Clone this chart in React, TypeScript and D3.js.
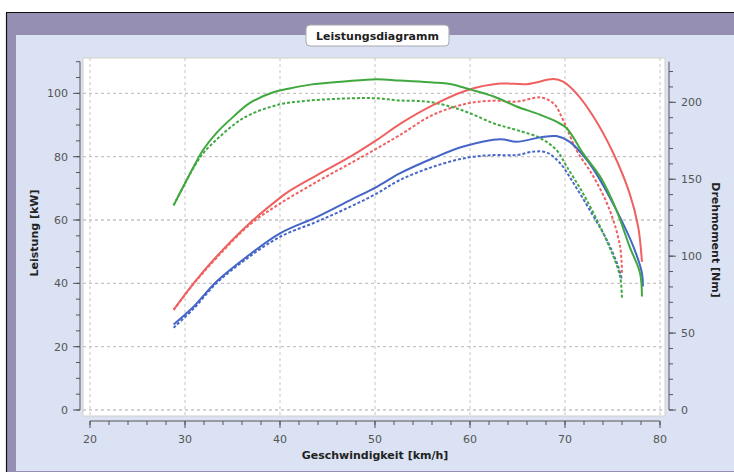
import React from "react";
import * as d3 from "d3";

type Pt = [number, number];

const xTicks = [20, 30, 40, 50, 60, 70, 80];
const leftTicks = [0, 20, 40, 60, 80, 100];
const rightTicks = [0, 50, 100, 150, 200];

// Leistung [kW] – red solid / dashed
const redSolid: Pt[] = [
  [28.8, 31.6], [30.9, 40], [33.3, 48.4], [36.8, 59], [40, 67], [41, 69.2], [43.9, 74.2],
  [47.4, 80], [50.2, 85.3], [52.6, 90.3], [56.1, 96.3], [59.7, 101], [63.2, 103.1],
  [66, 102.9], [68.8, 104.5], [69.8, 103.7], [71.2, 100], [73, 92.6], [75.1, 81],
  [76.8, 68.4], [77.7, 57.9], [78.1, 46.8],
];
const redDashed: Pt[] = [
  [28.8, 31.6], [30.9, 39.8], [33.3, 48], [36.8, 58.5], [40, 65.2], [43.9, 72.1],
  [47.4, 77.9], [50.2, 82.6], [52.6, 86.8], [56.1, 93.2], [59.7, 96.8], [62.5, 97.7],
  [64.9, 97.4], [67.4, 98.7], [68.8, 96.8], [69.8, 91.6], [71.2, 82.1], [73, 73.7],
  [74.7, 63.2], [75.8, 51.6], [76, 43],
];
// Leistung [kW] – blue solid / dashed
const blueSolid: Pt[] = [
  [28.8, 27], [30.9, 32.6], [33.3, 40.5], [36.5, 48.4], [40, 55.8], [43.9, 61],
  [47.4, 66.3], [50.2, 70.5], [52.6, 74.7], [56.1, 79.5], [59.3, 83.2], [63.2, 85.5],
  [64.9, 84.7], [67.4, 86.1], [69.1, 86.5], [70.5, 84.7], [72.3, 79], [73.7, 72.6],
  [75.4, 63.2], [77.2, 51.6], [78.1, 43.2], [78.2, 39],
];
const blueDashed: Pt[] = [
  [28.8, 26], [30.9, 32], [33.3, 40], [36.5, 47.8], [40, 54.7], [43.9, 59.5],
  [47.4, 64.2], [50.2, 68.4], [52.6, 72.6], [56.1, 76.8], [59.7, 79.7], [62.5, 80.5],
  [64.9, 80.5], [66.7, 81.6], [68.1, 81.3], [69.5, 77.9], [70.9, 71.6], [72.6, 63.2],
  [74.4, 53.7], [75.6, 45.3], [76, 41],
];
// Drehmoment [Nm] – green solid / dashed
const greenSolid: Pt[] = [
  [28.8, 133], [29.8, 145], [30.9, 158], [31.9, 169], [33.3, 180], [35.1, 190.7],
  [36.8, 199.5], [39.3, 206.5], [41, 209], [43.2, 211.5], [46.7, 213.5], [50.2, 215],
  [52.6, 214.1], [56.1, 212.9], [57.9, 211.9], [60, 208.4], [62.5, 203.8], [64.9, 197.3],
  [67.4, 191.9], [69.1, 187.4], [70.2, 183], [71.9, 166.8], [73.7, 151.7], [75.4, 130.1],
  [76.8, 106.2], [77.9, 88.9], [78.1, 73.7],
];
const greenDashed: Pt[] = [
  [28.8, 133], [29.8, 145], [30.9, 157.5], [31.9, 166.8], [33.3, 175.6], [35.1, 185.3],
  [36.8, 191.9], [40, 198.7], [43.2, 201.2], [47.4, 202.6], [50.2, 202.6], [52.6, 201.2],
  [55.4, 200.5], [57.9, 197.3], [60, 192.9], [62.5, 186.3], [64.9, 182], [67.4, 176.7],
  [69.1, 169], [70.2, 158.1], [71.9, 140.8], [73.7, 119.2], [75.1, 99.7], [75.8, 86.7],
  [76, 72.7],
];

const RED = "#ef6060";
const GREEN = "#3fa83f";
const BLUE = "#4565c8";
const FONT = "'DejaVu Sans', Verdana, sans-serif";

export default function App() {
  const W = 734;
  const H = 472;
  const x = d3.scaleLinear().domain([20, 80]).range([90, 660]);
  const yL = d3.scaleLinear().domain([0, 110]).range([410, 61.7]);
  const yR = d3.scaleLinear().domain([0, 226.4]).range([410, 61.7]);

  const curve = d3.curveCatmullRom.alpha(0.5);
  const lineL = d3.line<Pt>().x((d) => x(d[0])).y((d) => yL(d[1])).curve(curve);
  const lineR = d3.line<Pt>().x((d) => x(d[0])).y((d) => yR(d[1])).curve(curve);

  const xMinor = d3.range(20, 80.01, 2);
  const lMinor = d3.range(0, 110.01, 5);
  const rMinor = d3.range(0, 220.01, 10);

  const plot = { x0: 83, x1: 665, y0: 58, y1: 416 };
  const axisY = 421;
  const leftAxisX = 80;
  const rightAxisX = 669;

  const series = [
    { d: lineL(redDashed), c: RED, dash: "3,2" },
    { d: lineL(blueDashed), c: BLUE, dash: "3,2" },
    { d: lineR(greenDashed), c: GREEN, dash: "3,2" },
    { d: lineL(redSolid), c: RED, dash: undefined },
    { d: lineL(blueSolid), c: BLUE, dash: undefined },
    { d: lineR(greenSolid), c: GREEN, dash: undefined },
  ];

  return (
    <svg width={W} height={H} style={{ position: "absolute", left: 0, top: 0 }} fontFamily={FONT}>
      <rect x={0} y={0} width={W} height={H} fill="#ffffff" />
      <rect x={6} y={12} width={W - 6} height={H - 12} fill="#9590b3" />
      <line x1={6} y1={12.5} x2={W} y2={12.5} stroke="#111" strokeWidth={1.2} />
      <line x1={6.5} y1={12} x2={6.5} y2={H} stroke="#111" strokeWidth={1.2} />
      <rect x={16} y={35} width={W - 16} height={H - 36} fill="#dae2f3" />

      {/* title */}
      <rect x={306} y={25} width={143} height={21} rx={4} fill="#ffffff" stroke="#a8a8b0" />
      <text x={377.5} y={39.5} textAnchor="middle" fontSize={11} fontWeight="bold" fill="#222">
        Leistungsdiagramm
      </text>

      {/* plot background */}
      <rect x={plot.x0} y={plot.y0} width={plot.x1 - plot.x0} height={plot.y1 - plot.y0} fill="#ffffff" stroke="#d4d0c8" />

      {/* grid */}
      {xTicks.map((t) => (
        <line key={"gx" + t} x1={x(t)} x2={x(t)} y1={plot.y0} y2={plot.y1} stroke="#c4c4c4" strokeDasharray="3,3" />
      ))}
      {leftTicks.map((t) => (
        <line key={"gy" + t} x1={plot.x0} x2={plot.x1} y1={yL(t)} y2={yL(t)} stroke="#c4c4c4" strokeDasharray="3,3" strokeWidth={1.3} />
      ))}

      {/* series */}
      {series.map((s, i) => (
        <path key={i} d={s.d || ""} fill="none" stroke={s.c} strokeWidth={2} strokeDasharray={s.dash} strokeLinejoin="round" />
      ))}

      {/* x axis */}
      <line x1={x(20)} x2={x(80)} y1={axisY} y2={axisY} stroke="#555" />
      {xMinor.map((t) => (
        <line key={"xm" + t} x1={x(t)} x2={x(t)} y1={axisY} y2={axisY + 4} stroke="#555" />
      ))}
      {xTicks.map((t) => (
        <g key={"xt" + t}>
          <line x1={x(t)} x2={x(t)} y1={axisY} y2={axisY + 7} stroke="#555" />
          <text x={x(t)} y={443} textAnchor="middle" fontSize={11} fill="#555">{t}</text>
        </g>
      ))}
      <text x={375} y={459} textAnchor="middle" fontSize={11} fontWeight="bold" fill="#222">
        Geschwindigkeit [km/h]
      </text>

      {/* left axis */}
      <line x1={leftAxisX} x2={leftAxisX} y1={yL(110)} y2={yL(0)} stroke="#555" />
      {lMinor.map((t) => (
        <line key={"lm" + t} x1={leftAxisX - 4} x2={leftAxisX} y1={yL(t)} y2={yL(t)} stroke="#555" />
      ))}
      {leftTicks.map((t) => (
        <g key={"lt" + t}>
          <line x1={leftAxisX - 7} x2={leftAxisX} y1={yL(t)} y2={yL(t)} stroke="#555" />
          <text x={68} y={yL(t) + 4} textAnchor="end" fontSize={11} fill="#555">{t}</text>
        </g>
      ))}
      <text transform="translate(38,233) rotate(-90)" textAnchor="middle" fontSize={11} fontWeight="bold" fill="#222">
        Leistung [kW]
      </text>

      {/* right axis */}
      <line x1={rightAxisX} x2={rightAxisX} y1={yR(226.4)} y2={yR(0)} stroke="#555" />
      {rMinor.map((t) => (
        <line key={"rm" + t} x1={rightAxisX} x2={rightAxisX + 4} y1={yR(t)} y2={yR(t)} stroke="#555" />
      ))}
      {rightTicks.map((t) => (
        <g key={"rt" + t}>
          <line x1={rightAxisX} x2={rightAxisX + 7} y1={yR(t)} y2={yR(t)} stroke="#555" />
          <text x={681} y={yR(t) + 4} textAnchor="start" fontSize={11} fill="#555">{t}</text>
        </g>
      ))}
      <text transform="translate(712,240) rotate(90)" textAnchor="middle" fontSize={11} fontWeight="bold" fill="#222">
        Drehmoment [Nm]
      </text>
    </svg>
  );
}
